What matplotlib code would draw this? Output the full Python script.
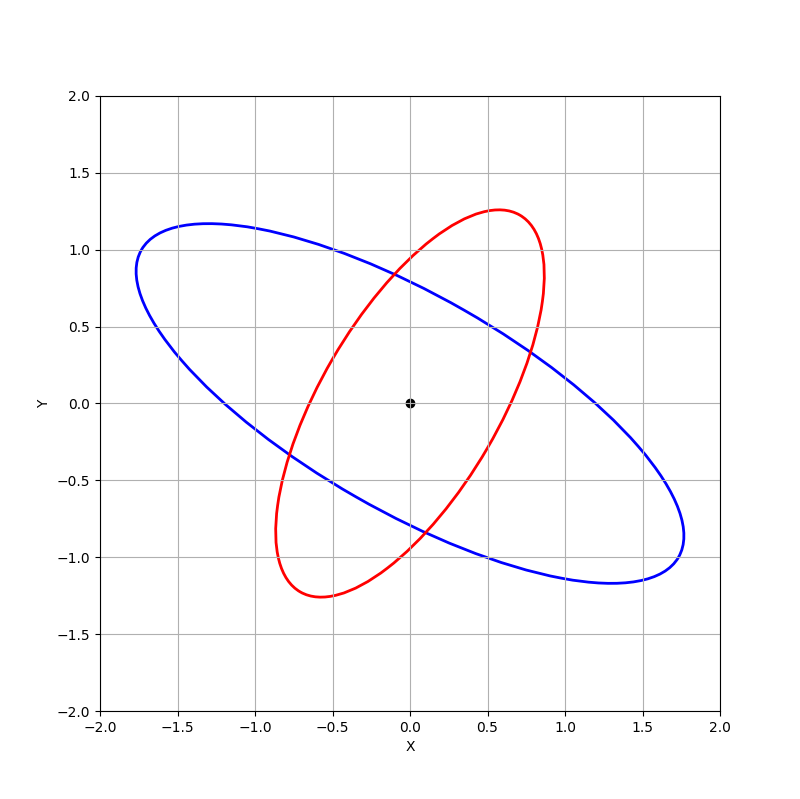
import matplotlib
matplotlib.use('Agg')
import matplotlib.pyplot as plt
from matplotlib.patches import Ellipse

# ellipse params: (width, height, angle in degrees)
names = ['blue', 'red']
widths = [4.0, 2.83]
heights = [1.4, 1.155]
angles = [-30, 60]
colors = ['blue', 'red']

center_x = [0.0]
center_y = [0.0]

fig, ax = plt.subplots(figsize=(8, 7.99), dpi=100)

for w, h, a, c in zip(widths, heights, angles, colors):
    e = Ellipse((center_x[0], center_y[0]), width=w, height=h, angle=a,
                fill=False, edgecolor=c, linewidth=2)
    ax.add_patch(e)

# dot sits under the grid lines in the reference
ax.scatter(center_x, center_y, color='black')

ax.set_xlim(-2, 2)
ax.set_ylim(-2, 2)
ax.set_xlabel('X')
ax.set_ylabel('Y')
ax.grid(True)

plt.savefig('out.png')
